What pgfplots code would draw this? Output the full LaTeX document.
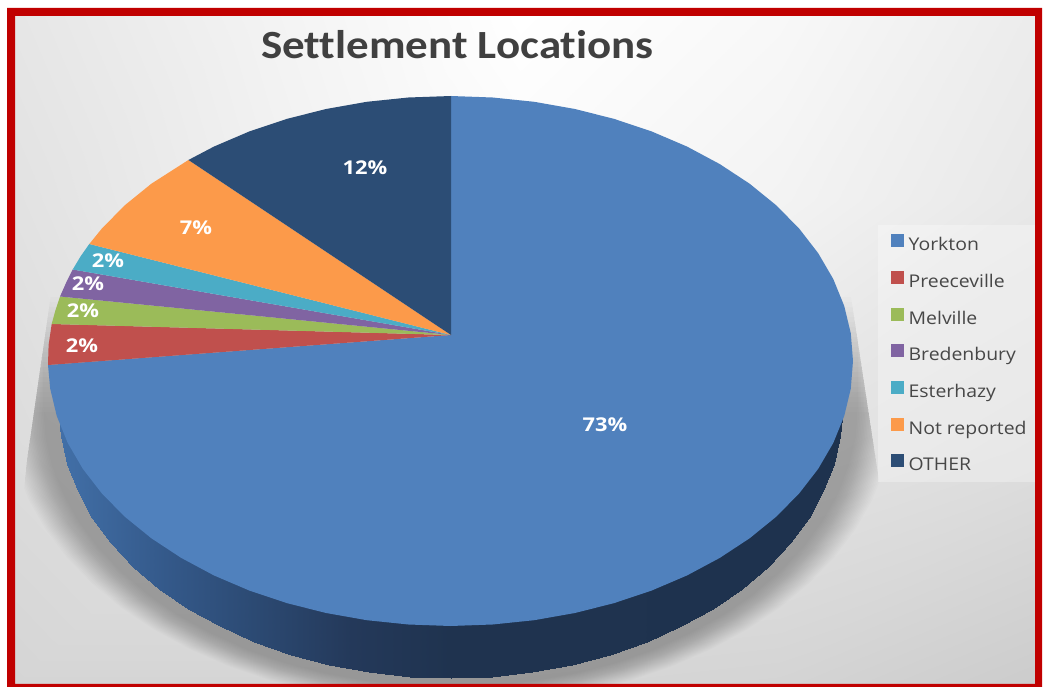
\documentclass[border=0pt]{standalone}
\usepackage{fontspec}
\setmainfont{Carlito}
\newfontfamily\titlefont[FakeStretch=1.125,Ligatures=NoCommon]{Carlito}
\newfontfamily\legfont[FakeStretch=1.11]{Open Sans}
\newfontfamily\labfont[FakeStretch=1.15]{Open Sans}
\usepackage{pgfplots}
\usepackage{pgfplotstable}
\pgfplotsset{compat=1.18}
\definecolor{cYork}{HTML}{5081BD}
\definecolor{cPree}{HTML}{C0504D}
\definecolor{cMelv}{HTML}{9BBB59}
\definecolor{cBred}{HTML}{8064A2}
\definecolor{cEste}{HTML}{4BACC6}
\definecolor{cNotr}{HTML}{FC9A4A}
\definecolor{cOthe}{HTML}{2C4D75}
\definecolor{frame}{HTML}{C00000}
\pgfplotstableread{
x y
58.5 280
58.5 408
60.6 436.2
67.1 464.1
77.7 491.4
92.4 517.8
111 543
133.4 566.7
159.2 588.7
188.2 608.6
220.1 626.4
254.5 641.8
291.1 654.7
329.4 664.8
369 672.1
409.5 676.5
450.5 678
491.5 676.5
532 672.1
571.6 664.8
609.9 654.7
646.5 641.8
680.9 626.4
712.8 608.6
741.8 588.7
767.6 566.7
790 543
808.6 517.8
823.3 491.4
833.9 464.1
840.4 436.2
842.5 408
842.5 280
}\shadowrim
\pgfplotsset{pix/.style={
  at={(0,0)},anchor=south west,scale only axis,width=1045pt,height=687pt,
  xmin=0,xmax=1045,ymin=0,ymax=687,y dir=reverse,hide axis}}
\begin{document}
\begin{tikzpicture}[x=1pt,y=1pt]
\path[use as bounding box] (0,0) rectangle (1045,687);
% chart-area background
\begin{axis}[pix,colormap/blackwhite,point meta min=0,point meta max=255]
\addplot[surf,shader=interp,mesh/rows=4,forget plot,point meta=\thisrow{g}] table {
x y g
15 16 230
270 16 243
520 16 255
780 16 248
1035 16 236
15 200 226
270 200 240
520 200 250
780 200 243
1035 200 232
15 450 220
270 450 228
520 450 232
780 450 228
1035 450 222
15 684 213
270 684 213
520 684 214
780 684 212
1035 684 204
};
\end{axis}
% soft shadow, cut off to its wedge
\begin{scope}
\clip (52,400) -- (848,410) -- (885,167) -- (905,3) -- (15,3) -- (15,109) -- (27,227) -- cycle;
\begin{axis}[pix]
\pgfplotsinvokeforeach{1,...,24}{
  \addplot[fill=black,fill opacity=0.011,draw=none,forget plot]
    table[x expr={450.5+(\thisrow{x}-450.5)*(1.035+0.004*#1)},
          y expr={\thisrow{y}<300 ? 292+5*#1 : 408+(\thisrow{y}-408)*(1.03+0.0031*#1)}] {\shadowrim} --cycle;
}
\end{axis}
\end{scope}
% legend panel
\fill[white,opacity=0.3] (878,205) rectangle (1035,462);
\begin{axis}[pix,
  colormap={wall}{rgb255(0)=(66,112,168) rgb255(11)=(52,89,138) rgb255(20)=(44,74,115) rgb255(30)=(36,57,90) rgb255(40)=(31,51,79) rgb255(80)=(30,50,78)},
  point meta min=58,point meta max=842,
  legend cell align=left,
  legend style={at={(0.8523,0.659)},anchor=north west,draw=none,fill=none,
    font=\legfont\fontsize{17.5}{20}\selectfont,text=black!72,
    inner sep=0pt,outer sep=0pt,row sep=15.2pt,
    nodes={text height=14pt,text depth=5pt,inner sep=0pt,outer sep=0pt},
    /tikz/every odd column/.append style={column sep=5pt}},
  legend image code/.code={\fill[#1] (0pt,-1pt) rectangle (13pt,12pt);}]
% side wall
\addplot[surf,shader=interp,mesh/rows=2,forget plot,point meta=\thisrow{x}] table {
x y
58.5 408
60.6 436.2
67.1 464.1
77.7 491.4
92.4 517.8
111 543
133.4 566.7
159.2 588.7
188.2 608.6
220.1 626.4
254.5 641.8
291.1 654.7
329.4 664.8
369 672.1
409.5 676.5
450.5 678
491.5 676.5
532 672.1
571.6 664.8
609.9 654.7
646.5 641.8
680.9 626.4
712.8 608.6
741.8 588.7
767.6 566.7
790 543
808.6 517.8
823.3 491.4
833.9 464.1
840.4 436.2
842.5 408
58.5 400
60.6 400
67.1 400
77.7 400
92.4 400
111 400
133.4 400
159.2 400
188.2 400
220.1 400
254.5 400
291.1 400
329.4 400
369 400
409.5 400
450.5 400
491.5 400
532 400
571.6 400
609.9 400
646.5 400
680.9 400
712.8 400
741.8 400
767.6 400
790 400
808.6 400
823.3 400
833.9 400
840.4 400
842.5 400
};
% Yorkton 73%
\addplot[fill=cYork,draw=none] coordinates {
(451,335) (451,96) (492.6,97.5) (534.2,101.8) (574.9,109) (614.2,118.9) (651.8,131.5) (687.1,146.6)
(719.8,164.1) (749.6,183.7) (776.1,205.2) (799.1,228.5) (818.2,253.2) (833.3,279.1) (844.2,305.9)
(850.8,333.3) (853,361) (850.8,388.7) (844.2,416.1) (833.3,442.9) (818.2,468.8) (799.1,493.5)
(776.1,516.8) (749.6,538.3) (719.8,557.9) (687.1,575.4) (651.8,590.5) (614.2,603.1) (574.9,613)
(534.2,620.2) (492.6,624.5) (450.5,626) (408.4,624.5) (366.8,620.2) (326.1,613) (286.8,603.1)
(249.2,590.5) (213.9,575.4) (181.2,557.9) (151.4,538.3) (124.9,516.8) (101.9,493.5) (82.8,468.8)
(67.7,442.9) (56.8,416.1) (50.2,388.7) (48,365)} --cycle;
\addlegendentry{Yorkton}
\addplot[fill=cPree,draw=none] coordinates {(451,335) (48,365) (48.6,345) (51.7,324)} --cycle;
\addlegendentry{Preeceville}
\addplot[fill=cMelv,draw=none] coordinates {(451,335) (51.7,324) (55.5,310) (60,296.5)} --cycle;
\addlegendentry{Melville}
\addplot[fill=cBred,draw=none] coordinates {(451,335) (60,296.5) (66,283) (72.7,269.5)} --cycle;
\addlegendentry{Bredenbury}
\addplot[fill=cEste,draw=none] coordinates {(451,335) (72.7,269.5) (80.5,256.5) (89.3,244)} --cycle;
\addlegendentry{Esterhazy}
\addplot[fill=cNotr,draw=none] coordinates {(451,335) (89.3,244) (101.9,228.5) (124.9,205.2) (151.4,183.7) (188.4,160)} --cycle;
\addlegendentry{Not reported}
\addplot[fill=cOthe,draw=none] coordinates {(451,335) (188.4,160) (213.9,146.6) (249.2,131.5) (286.8,118.9) (326.1,109) (366.8,101.8) (408.4,97.5) (451,96)} --cycle;
\addlegendentry{OTHER}
% data labels
\tikzset{lab/.style={text=white,font=\labfont\bfseries\fontsize{19}{22}\selectfont,inner sep=0pt}}
\node[lab] at (axis cs:605,425) {73\%};
\node[lab] at (axis cs:365,168) {12\%};
\node[lab] at (axis cs:196,228) {7\%};
\node[lab] at (axis cs:108,260.5) {2\%};
\node[lab] at (axis cs:88,284) {2\%};
\node[lab] at (axis cs:83,310.5) {2\%};
\node[lab] at (axis cs:82,346) {2\%};
\node[text=black!75,font=\titlefont\bfseries\fontsize{40}{46}\selectfont,inner sep=0pt] at (axis cs:457.5,45) {Settlement Locations};
\end{axis}
% frame
\fill[frame,even odd rule] (7,-2) rectangle (1042,679) (15,3) rectangle (1035,671);
\end{tikzpicture}
\end{document}
